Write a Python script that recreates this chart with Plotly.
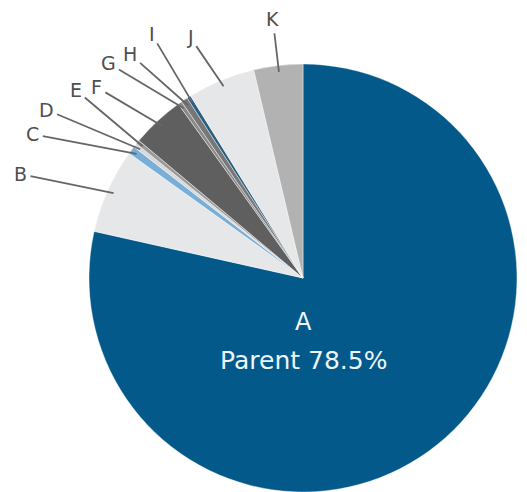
import math
import plotly.graph_objects as go

# ---- data ----
labels = ["A", "B", "C", "D", "E", "F", "G", "H", "I", "J", "K"]
values = [78.5, 6.4, 0.6, 0.3, 0.3, 4.0, 0.3, 0.5, 0.3, 5.1, 3.7]
parent_label = "Parent"

# ---- style ----
colors = ["#02598a", "#e6e7e8", "#79aed6", "#d8d8d8", "#9a9a9a", "#5f5f5f",
          "#8a8a8a", "#777777", "#2a5f82", "#e6e7e8", "#b2b2b2"]
# label placement: angle nudge (deg) and text radius (px) for each outside label
label_nudge = [0, 3.9, 8.7, 5.1, -0.2, 4.4, 7.1, 4.0, -0.4, 2.6, 0]
label_radius = [0, 301, 306, 307, 295, 281, 290, 283, 287, 266, 261]

W, H = 527, 492
CX, CY, R = 303, 278, 214

fig = go.Figure(go.Pie(
    labels=labels, values=values, sort=False, direction="clockwise", rotation=0,
    marker=dict(colors=colors, line=dict(color="rgba(255,255,255,0.7)", width=0.6)),
    textinfo="none", hoverinfo="label+percent", showlegend=False,
    domain=dict(x=[(CX - R) / W, (CX + R) / W], y=[0, (H - (CY - R)) / H]),
))

total = sum(values)
annotations = []
cum = 0.0
for i, (lab, v) in enumerate(zip(labels, values)):
    start = cum
    cum += v
    if i == 0:
        continue
    mid = (start + cum) / 2 / total
    phi = 360 * (1 - mid)  # ccw from vertical
    rad = math.radians(phi)
    apx = CX - 0.97 * R * math.sin(rad)
    apy = CY - 0.97 * R * math.cos(rad)
    trad = math.radians(phi + label_nudge[i])
    tpx = CX - label_radius[i] * math.sin(trad)
    tpy = CY - label_radius[i] * math.cos(trad)
    annotations.append(dict(
        x=apx / W, y=1 - apy / H, xref="paper", yref="paper",
        ax=tpx - apx, ay=tpy - apy, axref="pixel", ayref="pixel",
        text=lab, showarrow=True, arrowhead=0, arrowwidth=1.8,
        arrowcolor="#666666", standoff=0, startstandoff=2,
        font=dict(family="DejaVu Sans", size=19, color="#4f4f4f"),
    ))

annotations.append(dict(
    x=CX / W, y=1 - 338 / H, xref="paper", yref="paper", showarrow=False,
    text=labels[0], font=dict(family="DejaVu Sans", size=24, color="#eef6fb"),
))
annotations.append(dict(
    x=CX / W, y=1 - 377 / H, xref="paper", yref="paper", showarrow=False,
    text=f"{parent_label} {values[0]}%",
    font=dict(family="DejaVu Sans", size=25, color="#eef6fb"),
))

fig.update_layout(
    width=W, height=H, margin=dict(l=0, r=0, t=0, b=0),
    paper_bgcolor="white", plot_bgcolor="white",
    annotations=annotations,
)

fig.write_html("out.html")
